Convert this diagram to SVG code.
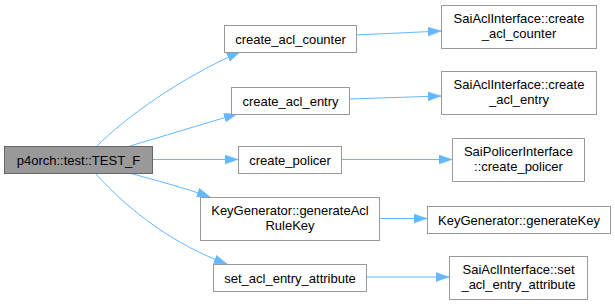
<svg xmlns="http://www.w3.org/2000/svg" width="615" height="304" viewBox="0 0 615 304">
  <style>
    .node rect { fill: #ffffff; stroke: #999999; stroke-width: 1; }
    .node.root rect { fill: #999999; stroke: #666666; }
    .node text { font-family: "Liberation Sans", Arial, sans-serif; font-size: 13px; fill: #000000; text-anchor: middle; }
    .edge { fill: none; stroke: #63b8ff; stroke-width: 1; }
  </style>
  <defs>
    <marker id="arrow" viewBox="0 0 13 10" refX="13" refY="5" markerWidth="13" markerHeight="10" markerUnits="userSpaceOnUse" orient="auto">
      <path d="M0,0.5 L13,5 L0,9.5 Z" fill="#63b8ff" stroke="#63b8ff" stroke-width="0.5"/>
    </marker>
  </defs>
  <rect width="615" height="304" fill="#ffffff"/>

  <g id="connectors">
    <path class="edge" marker-end="url(#arrow)" d="M97,146 C125,118 180,78 240,52"/>
    <path class="edge" marker-end="url(#arrow)" d="M130,146 C160,137 200,125 237,114"/>
    <path class="edge" marker-end="url(#arrow)" d="M152,159.5 L238,159.5"/>
    <path class="edge" marker-end="url(#arrow)" d="M129,173 C155,180 185,188 210,197"/>
    <path class="edge" marker-end="url(#arrow)" d="M95,173 C130,212 175,245 227,264"/>
    <path class="edge" marker-end="url(#arrow)" d="M356,35 L441,31"/>
    <path class="edge" marker-end="url(#arrow)" d="M349,99 L441,96"/>
    <path class="edge" marker-end="url(#arrow)" d="M341,159.5 L452,159.5"/>
    <path class="edge" marker-end="url(#arrow)" d="M379,218.5 L427,218.5"/>
    <path class="edge" marker-end="url(#arrow)" d="M366,277 L449,277"/>
  </g>

  <g id="node-root" class="node root">
    <rect x="4.5" y="146.5" width="148" height="27"/>
    <text x="78.5" y="164.5">p4orch::test::TEST_F</text>
  </g>
  <g id="node-create-acl-counter" class="node">
    <rect x="224.5" y="25.5" width="132" height="27"/>
    <text x="290.5" y="43.5">create_acl_counter</text>
  </g>
  <g id="node-create-acl-entry" class="node">
    <rect x="231.5" y="87.5" width="118" height="27"/>
    <text x="290.5" y="105.5">create_acl_entry</text>
  </g>
  <g id="node-create-policer" class="node">
    <rect x="238.5" y="146.5" width="103" height="27"/>
    <text x="290" y="164.5">create_policer</text>
  </g>
  <g id="node-generate-acl-rule-key" class="node">
    <rect x="200.5" y="197.5" width="179" height="43"/>
    <text x="290" y="215">KeyGenerator::generateAcl</text>
    <text x="290" y="229.5">RuleKey</text>
  </g>
  <g id="node-set-acl-entry-attribute" class="node">
    <rect x="213.5" y="264.5" width="153" height="27"/>
    <text x="290" y="282.5">set_acl_entry_attribute</text>
  </g>
  <g id="node-sai-create-acl-counter" class="node">
    <rect x="441.5" y="5.5" width="155" height="43"/>
    <text x="519" y="23">SaiAclInterface::create</text>
    <text x="519" y="37.5">_acl_counter</text>
  </g>
  <g id="node-sai-create-acl-entry" class="node">
    <rect x="441.5" y="71.5" width="155" height="43"/>
    <text x="519" y="89">SaiAclInterface::create</text>
    <text x="519" y="103.5">_acl_entry</text>
  </g>
  <g id="node-sai-create-policer" class="node">
    <rect x="452.5" y="138.5" width="132" height="43"/>
    <text x="518.5" y="156">SaiPolicerInterface</text>
    <text x="518.5" y="170.5">::create_policer</text>
  </g>
  <g id="node-generate-key" class="node">
    <rect x="427.5" y="206.5" width="183" height="27"/>
    <text x="519" y="224.5">KeyGenerator::generateKey</text>
  </g>
  <g id="node-sai-set-acl-entry-attribute" class="node">
    <rect x="449.5" y="256.5" width="138" height="43"/>
    <text x="518.5" y="274">SaiAclInterface::set</text>
    <text x="518.5" y="288.5">_acl_entry_attribute</text>
  </g>
</svg>
